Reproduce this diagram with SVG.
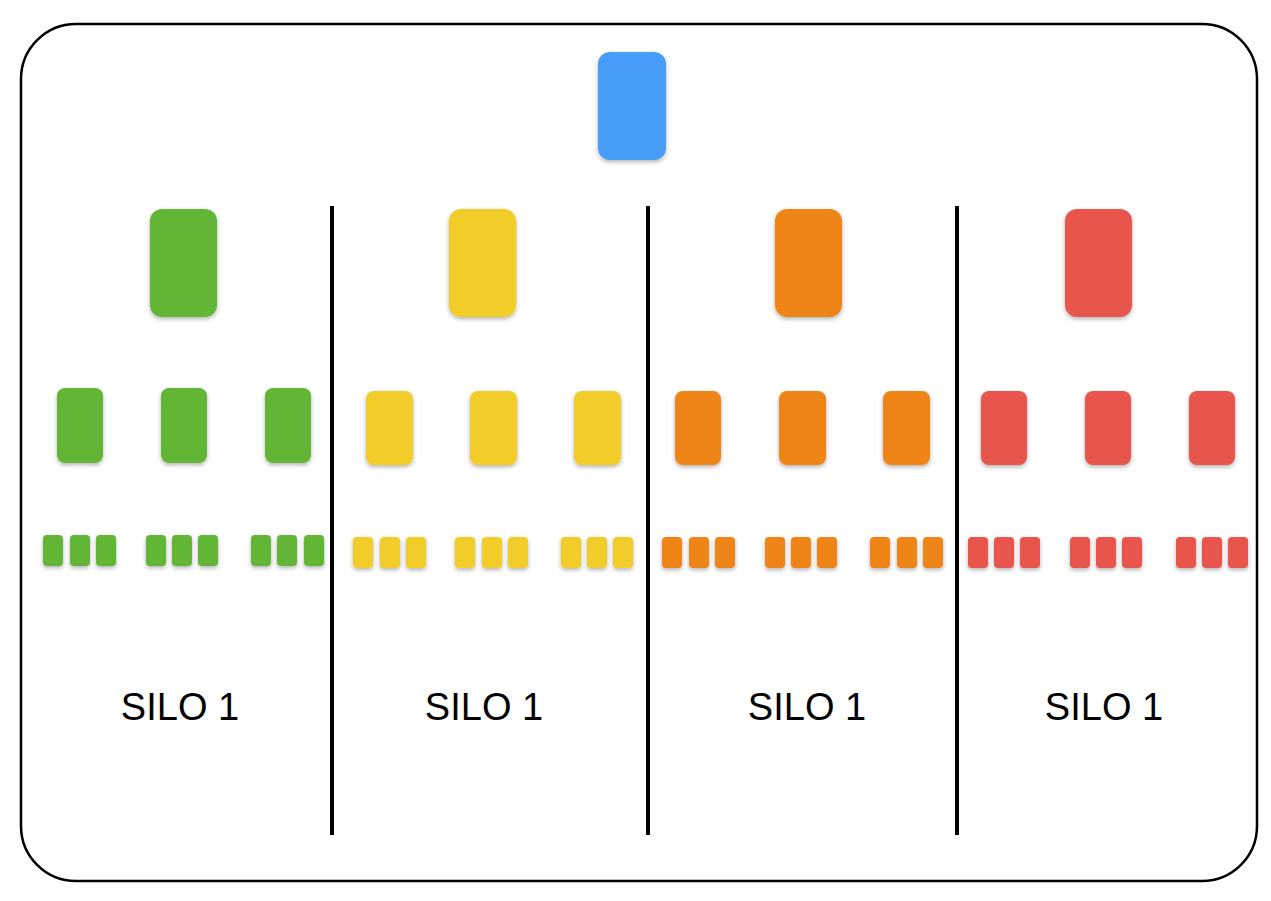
<svg xmlns="http://www.w3.org/2000/svg" width="1271" height="901" viewBox="0 0 1271 901">
<defs>
<filter id="sh" x="-20%" y="-20%" width="140%" height="150%"><feDropShadow dx="0" dy="2" stdDeviation="2" flood-color="#000" flood-opacity="0.3"/></filter>
<style>
.g{fill:#62b536}.y{fill:#f2cd2a}.o{fill:#ee8519}.r{fill:#e8544d}.b{fill:#469df8}
rect.n{filter:url(#sh)}
.lbl{font-family:"Liberation Sans",Arial,sans-serif;font-size:38px;fill:#000;text-anchor:middle}
.div{stroke:#000;stroke-width:4}
</style>
</defs>
<rect width="1271" height="901" fill="#fff"/>
<rect x="21" y="24" width="1236" height="857" rx="55" fill="#fff" stroke="#000" stroke-width="2.5"/>
<g id="connectors">
<line class="div" x1="332" y1="206" x2="332" y2="835"/>
<line class="div" x1="648" y1="206" x2="648" y2="835"/>
<line class="div" x1="957" y1="206" x2="957" y2="835"/>
</g>
<g id="top"><rect class="n b" x="598" y="52" width="68" height="108" rx="12"/></g>
<g id="silo-green">
<rect class="n g" x="150" y="209" width="67" height="108" rx="12"/>
<rect class="n g" x="57" y="388" width="46" height="75" rx="8"/><rect class="n g" x="161" y="388" width="46" height="75" rx="8"/><rect class="n g" x="265" y="388" width="46" height="75" rx="8"/>
<rect class="n g" x="43" y="535" width="20" height="31" rx="4"/><rect class="n g" x="70" y="535" width="20" height="31" rx="4"/><rect class="n g" x="96" y="535" width="20" height="31" rx="4"/>
<rect class="n g" x="146" y="535" width="20" height="31" rx="4"/><rect class="n g" x="172" y="535" width="20" height="31" rx="4"/><rect class="n g" x="198" y="535" width="20" height="31" rx="4"/>
<rect class="n g" x="251" y="535" width="20" height="31" rx="4"/><rect class="n g" x="277" y="535" width="20" height="31" rx="4"/><rect class="n g" x="304" y="535" width="20" height="31" rx="4"/>
<text class="lbl" x="180" y="720">SILO 1</text>
</g>
<g id="silo-yellow">
<rect class="n y" x="449" y="209" width="67" height="108" rx="12"/>
<rect class="n y" x="366" y="391" width="47" height="74" rx="8"/><rect class="n y" x="470" y="391" width="47" height="74" rx="8"/><rect class="n y" x="574" y="391" width="47" height="74" rx="8"/>
<rect class="n y" x="353" y="537" width="20" height="31" rx="4"/><rect class="n y" x="380" y="537" width="20" height="31" rx="4"/><rect class="n y" x="406" y="537" width="20" height="31" rx="4"/>
<rect class="n y" x="455" y="537" width="20" height="31" rx="4"/><rect class="n y" x="482" y="537" width="20" height="31" rx="4"/><rect class="n y" x="508" y="537" width="20" height="31" rx="4"/>
<rect class="n y" x="561" y="537" width="20" height="31" rx="4"/><rect class="n y" x="587" y="537" width="20" height="31" rx="4"/><rect class="n y" x="613" y="537" width="20" height="31" rx="4"/>
<text class="lbl" x="484" y="720">SILO 1</text>
</g>
<g id="silo-orange">
<rect class="n o" x="775" y="209" width="67" height="108" rx="12"/>
<rect class="n o" x="675" y="391" width="46" height="74" rx="8"/><rect class="n o" x="779" y="391" width="47" height="74" rx="8"/><rect class="n o" x="883" y="391" width="47" height="74" rx="8"/>
<rect class="n o" x="662" y="537" width="20" height="31" rx="4"/><rect class="n o" x="689" y="537" width="20" height="31" rx="4"/><rect class="n o" x="715" y="537" width="20" height="31" rx="4"/>
<rect class="n o" x="765" y="537" width="20" height="31" rx="4"/><rect class="n o" x="791" y="537" width="20" height="31" rx="4"/><rect class="n o" x="817" y="537" width="20" height="31" rx="4"/>
<rect class="n o" x="870" y="537" width="20" height="31" rx="4"/><rect class="n o" x="897" y="537" width="20" height="31" rx="4"/><rect class="n o" x="923" y="537" width="20" height="31" rx="4"/>
<text class="lbl" x="807" y="720">SILO 1</text>
</g>
<g id="silo-red">
<rect class="n r" x="1065" y="209" width="67" height="108" rx="12"/>
<rect class="n r" x="981" y="391" width="46" height="74" rx="8"/><rect class="n r" x="1085" y="391" width="46" height="74" rx="8"/><rect class="n r" x="1189" y="391" width="46" height="74" rx="8"/>
<rect class="n r" x="968" y="537" width="20" height="31" rx="4"/><rect class="n r" x="994" y="537" width="20" height="31" rx="4"/><rect class="n r" x="1020" y="537" width="20" height="31" rx="4"/>
<rect class="n r" x="1070" y="537" width="20" height="31" rx="4"/><rect class="n r" x="1096" y="537" width="20" height="31" rx="4"/><rect class="n r" x="1122" y="537" width="20" height="31" rx="4"/>
<rect class="n r" x="1176" y="537" width="20" height="31" rx="4"/><rect class="n r" x="1202" y="537" width="20" height="31" rx="4"/><rect class="n r" x="1228" y="537" width="20" height="31" rx="4"/>
<text class="lbl" x="1104" y="720">SILO 1</text>
</g>
</svg>
